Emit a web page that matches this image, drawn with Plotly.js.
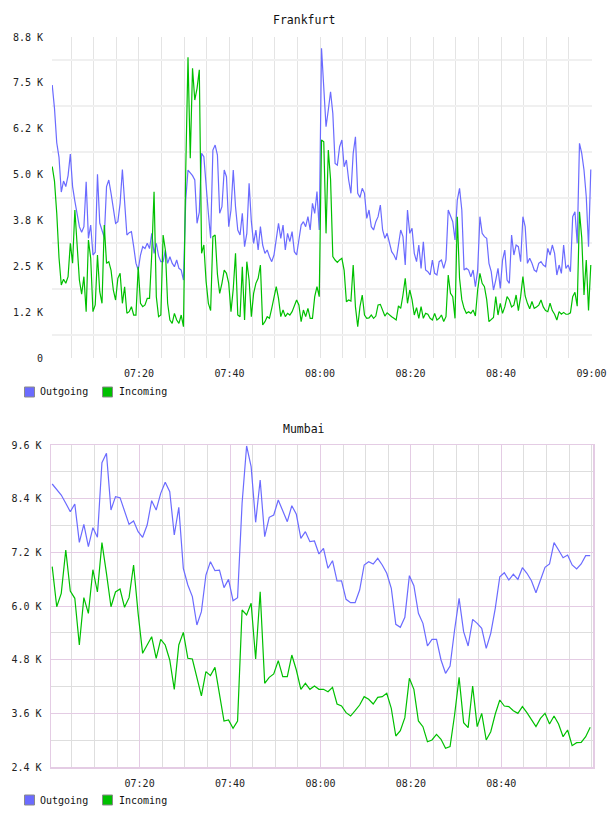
<!DOCTYPE html>
<html>
<head>
<meta charset="utf-8">
<script src="https://cdn.plot.ly/plotly-3.0.1.min.js"></script>
<style>
  html, body { margin: 0; padding: 0; background: #fff; }
  #chart { width: 608px; height: 816px; }
</style>
</head>
<body>
<div id="chart"></div>
<script>
// ---- data -------------------------------------------------------------
const day = '2024-05-14';

// Frankfurt: 30-second samples
const fraStart = '07:00:50';
const fraStepSec = 30;
const fraOutgoing = [
  7483, 6843, 5900, 5500, 4550, 4850, 4700, 5000, 5592, 4700,
  4300, 3900, 3600, 3450, 3600, 4834, 3281, 3645, 2823, 2900,
  5034, 3700, 3463, 3300, 4700, 4879, 4514, 4100, 3692, 3737,
  4240, 5169, 4200, 3371, 3436, 3463, 3052, 2600, 2412, 2823,
  3052, 3000, 3143, 3000, 3417, 2869, 3143, 2800, 2641, 2641,
  2960, 2595, 2777, 2600, 2503, 2686, 2458, 2412, 2138, 4331,
  5153, 5080, 5000, 4879, 3692, 4000, 5610, 5518, 4605, 3966,
  3281, 5701, 5838, 5564, 3966, 4148, 5153, 4970, 3600, 4057,
  5153, 4148, 3509, 3371, 3966, 3052, 3417, 4788, 3737, 3143,
  3509, 2960, 3600, 3097, 2869, 2960, 2777, 2641, 2823, 3234,
  3692, 3281, 3645, 2960, 3417, 3188, 3463, 2915, 2823, 3234,
  3645, 3737, 3600, 3874, 3509, 4240, 3966, 4560, 3509, 8489,
  7437, 6340, 6798, 7300, 6707, 5336, 5290, 5792, 5975, 5244,
  5427, 4879, 4514, 5610, 6066, 4514, 4400, 4651, 4514, 3829,
  4057, 3600, 3509, 3737, 3874, 4194, 3509, 3281, 3417, 3143,
  2915, 2823, 2686, 3097, 3509, 3326, 2549, 4057, 3417, 3554,
  2869, 2641, 3097, 2458, 3188, 2412, 2366, 2275, 2686, 2321,
  2275, 2641, 2686, 2458, 2686, 4057, 3920, 3737, 3234, 4331,
  4651, 4057, 2412, 2458, 2412, 2229, 2412, 1954, 2400, 3874,
  3417, 3326, 3281, 2595, 2366, 1864, 2138, 2458, 1910, 2686,
  2960, 2138, 2047, 3371, 2823, 3097, 3052, 2641, 3874, 3600,
  2595, 2732, 2595, 2412, 2366, 2595, 2641, 2549, 2504, 3006,
  2823, 3097, 2869, 2275, 2549, 2321, 3097, 2458, 2549, 2366,
  3874, 4011, 3143, 5884, 5610, 5153, 4422, 3052, 5169
];
const fraIncoming = [
  5250, 4850, 3966, 2750, 2000, 2160, 2050, 2229, 3143, 2600,
  4057, 3052, 2138, 1750, 2229, 1270, 3234, 2732, 1270, 1453,
  2823, 1818, 1499, 3645, 2595, 2641, 2400, 1864, 1590, 2184,
  2321, 1499, 1954, 1225, 1270, 1407, 1178, 1178, 2500, 1499,
  1407, 1453, 1635, 1635, 2869, 4560, 1680, 1133, 1178, 3371,
  2960, 1499, 1042, 950, 1225, 1042, 950, 1178, 859, 5153,
  8242, 5474, 7940, 7072, 7392, 7900, 2869, 3097, 2100, 1499,
  1300, 3326, 3371, 2300, 1773, 2047, 2412, 2321, 2047, 1270,
  1900, 2869, 1178, 1133, 2503, 1042, 2641, 2138, 1133, 1773,
  2047, 2184, 2549, 905, 996, 1133, 1088, 1362, 1680, 1955,
  1635, 1133, 1316, 1133, 1225, 1178, 1270, 1407, 1590, 1453,
  996, 1316, 1133, 1362, 1088, 1088, 1680, 1954, 1680, 5975,
  5929, 3417, 5700, 4900, 2780, 2686, 2620, 2690, 2732, 2400,
  1544, 1590, 1560, 2549, 1400, 859, 1407, 1727, 1178, 1087,
  1100, 1178, 1087, 1150, 1453, 1470, 1316, 1150, 1240, 1178,
  1133, 1090, 1042, 1430, 1362, 1727, 2184, 1499, 1864, 1600,
  1178, 1380, 1087, 1407, 1087, 1224, 1200, 1087, 1042, 1224,
  1042, 1087, 1178, 1000, 1133, 2275, 1773, 1681, 1087, 3874,
  2184, 1600, 1362, 1224, 1270, 1224, 1316, 1150, 1864, 2321,
  2047, 1955, 1600, 996, 1042, 1110, 1681, 1178, 1500, 1224,
  1400, 1681, 1590, 1400, 1450, 1727, 1300, 1681, 2229, 1700,
  1499, 1350, 1550, 1362, 1400, 1450, 1590, 1400, 1300, 1270,
  1500, 1300, 1200, 1042, 1270, 1200, 1250, 1200, 1200, 1240,
  1681, 1800, 1420, 4011, 3300, 1727, 2686, 1300, 2549
];

// Mumbai: 1-minute samples
const mumStart = '07:00:40';
const mumStepSec = 60;
const mumOutgoing = [
  8728, 8616, 8482, 8296, 8109, 8281, 7424, 7826, 7327, 7751,
  7536, 9205, 9414, 8147, 8445, 8422, 8109, 7826, 7901, 7662,
  7536, 7811, 8355, 8147, 8519, 8765, 8557, 7588, 8206, 6843,
  6470, 6209, 5575, 5873, 6693, 6991, 6790, 6800, 6410, 6596,
  6119, 6186, 8296, 9578, 9115, 7871, 8817, 7550, 7983, 8035,
  8370, 8109, 7885, 8243, 8050, 7513, 7662, 7438, 7453, 7163,
  7290, 6843, 7013, 6559, 6560, 6150, 6074, 6074, 6358, 6917,
  6991, 6939, 7066, 6917, 6731, 6396, 5591, 5523, 5747, 6678,
  6454, 5836, 5613, 5106, 5255, 5255, 4793, 4495, 4658, 5463,
  6172, 5426, 5106, 5702, 5613, 5501, 5054, 5389, 5948, 6655,
  6745, 6581, 6709, 6597, 6857, 6731, 6566, 6297, 6566, 6865,
  6939, 7416, 7252, 7080, 7140, 6917, 6827, 6939, 7125, 7125
];
const mumIncoming = [
  6879, 5984, 6283, 7252, 6335, 6172, 5128, 6186, 5836, 6811,
  6313, 7416, 6730, 5984, 6313, 6380, 5970, 6186, 6917, 5836,
  4942, 5128, 5314, 4830, 5255, 5128, 4793, 4137, 5128, 5411,
  4830, 4815, 4420, 3988, 4532, 4443, 4628, 4032, 3429, 3451,
  3265, 3429, 5911, 5799, 6060, 4815, 6320, 4271, 4405, 4480,
  4778, 4420, 4420, 4904, 4569, 4137, 4271, 4137, 4211, 4137,
  4137, 4084, 4181, 3809, 3764, 3615, 3540, 3660, 3786, 3973,
  3913, 3809, 3958, 3973, 4047, 3712, 3093, 3212, 3503, 4383,
  4137, 3429, 3302, 2966, 3004, 3130, 3019, 2817, 2855, 3563,
  4405, 3391, 3280, 4211, 3302, 3600, 3004, 3190, 3585, 3898,
  3764, 3750, 3660, 3600, 3750, 3615, 3451, 3302, 3488, 3600,
  3361, 3540, 3361, 3078, 3227, 2877, 2944, 2952, 3078, 3287
];

// axis labels
const fraTickVals = [0, 1257, 2514, 3771, 5029, 6286, 7543, 8800];
const fraTickText = ['0', '1.2 K', '2.5 K', '3.8 K', '5.0 K', '6.2 K', '7.5 K', '8.8 K'];
const mumTickVals = [2400, 3600, 4800, 6000, 7200, 8400, 9600];
const mumTickText = ['2.4 K', '3.6 K', '4.8 K', '6.0 K', '7.2 K', '8.4 K', '9.6 K'];
const fraTimeTicks = ['07:20', '07:40', '08:00', '08:20', '08:40', '09:00'];
const mumTimeTicks = ['07:20', '07:40', '08:00', '08:20', '08:40'];

const seriesNames = ['Outgoing', 'Incoming'];
const seriesColors = ['#6b6bff', '#00c000'];

// ---- helpers ----------------------------------------------------------
function pad(n) { return String(n).padStart(2, '0'); }
function stamps(start, stepSec, n) {
  const [h, m, s] = start.split(':').map(Number);
  const t0 = h * 3600 + m * 60 + s;
  const out = [];
  for (let i = 0; i < n; i++) {
    const t = t0 + i * stepSec;
    out.push(day + ' ' + pad(Math.floor(t / 3600)) + ':' + pad(Math.floor(t / 60) % 60) + ':' + pad(t % 60));
  }
  return out;
}
const at = t => day + ' ' + t;

// page geometry (pixels) for the two panels
const W = 608, H = 816;
const M = { l: 51, r: 15, t: 37, b: 49 };
const plotW = W - M.l - M.r, plotH = H - M.t - M.b;
const px = x => (x - M.l) / plotW;          // page x -> paper x
const py = y => (H - M.b - y) / plotH;      // page y -> paper y

const mono = 'DejaVu Sans Mono, monospace';
const tickFont = { family: mono, size: 10, color: '#222' };

// ---- traces -----------------------------------------------------------
const fraX = stamps(fraStart, fraStepSec, fraOutgoing.length);
const mumX = stamps(mumStart, mumStepSec, mumOutgoing.length);

function line(x, y, k, xa, ya) {
  return {
    type: 'scatter', mode: 'lines', x: x, y: y, name: seriesNames[k],
    xaxis: xa, yaxis: ya, showlegend: false, hoverinfo: 'skip',
    line: { color: seriesColors[k], width: 1.2 }
  };
}
const traces = [
  line(fraX, fraOutgoing, 0, 'x', 'y'),
  line(fraX, fraIncoming, 1, 'x', 'y'),
  line(mumX, mumOutgoing, 0, 'x2', 'y2'),
  line(mumX, mumIncoming, 1, 'x2', 'y2')
];

// ---- axes -------------------------------------------------------------
const fraStep = fraTickVals[1];
const fraHalfGrid = fraTickVals.slice(0, -1).map(v => v + fraStep / 2);
const mumHalfGrid = mumTickVals.slice(0, -1).map((v, i) => (v + mumTickVals[i + 1]) / 2);

const hiddenTick = { ticks: 'outside', ticklen: 6, tickcolor: 'rgba(0,0,0,0)' };
const pink = '#e4cce4';
const minorGray = '#dedede';
const frameGray = '#e4e4e4';

const layout = {
  width: W, height: H,
  margin: M,
  paper_bgcolor: '#fff', plot_bgcolor: '#fff',
  showlegend: false,
  xaxis: Object.assign({
    domain: [px(52), px(592)], anchor: 'y', type: 'date',
    range: [at('07:00:47'), at('09:00:06')],
    tickmode: 'array', tickvals: fraTimeTicks.map(at), ticktext: fraTimeTicks,
    showgrid: true, gridcolor: frameGray, gridwidth: 1,
    minor: { dtick: 300000, tick0: at('07:00'), showgrid: true, gridcolor: frameGray, gridwidth: 1 },
    zeroline: false, showline: false, tickfont: tickFont, fixedrange: true
  }, hiddenTick),
  yaxis: Object.assign({
    domain: [py(358), 1], anchor: 'x', range: [0, 8800],
    tickmode: 'array', tickvals: fraTickVals, ticktext: fraTickText,
    showgrid: false,
    minor: { tickmode: 'array', tickvals: fraHalfGrid, showgrid: true, gridcolor: '#f0f0f0', gridwidth: 2 },
    zeroline: false, showline: false, tickfont: tickFont, fixedrange: true
  }, hiddenTick),
  xaxis2: Object.assign({
    domain: [0, 1], anchor: 'y2', type: 'date',
    range: [at('07:00:24'), at('09:00:17')],
    tickmode: 'array', tickvals: mumTimeTicks.map(at), ticktext: mumTimeTicks,
    showgrid: true, gridcolor: pink, gridwidth: 1,
    minor: { dtick: 300000, tick0: at('07:00'), showgrid: true, gridcolor: minorGray, gridwidth: 1 },
    showline: true, mirror: true, linecolor: pink, linewidth: 1.5,
    zeroline: false, tickfont: tickFont, fixedrange: true
  }, hiddenTick),
  yaxis2: Object.assign({
    domain: [0, py(445)], anchor: 'x2', range: [2400, 9600],
    tickmode: 'array', tickvals: mumTickVals, ticktext: mumTickText,
    showgrid: true, gridcolor: pink, gridwidth: 1,
    minor: { tickmode: 'array', tickvals: mumHalfGrid, showgrid: true, gridcolor: minorGray, gridwidth: 1 },
    showline: true, mirror: true, linecolor: pink, linewidth: 1.5,
    zeroline: false, tickfont: tickFont, fixedrange: true
  }, hiddenTick),
  annotations: [],
  shapes: []
};

// panel titles
[['Frankfurt', 304, 20], ['Mumbai', 304, 429]].forEach(([t, x, y]) => {
  layout.annotations.push({
    text: t, xref: 'paper', yref: 'paper', x: px(x), y: py(y),
    xanchor: 'center', yanchor: 'middle', showarrow: false,
    font: { family: mono, size: 11.5, color: '#111' }
  });
});

// legends under each panel: square swatch + series name
[392, 800].forEach(cy => {
  [[24.5, 38], [102.5, 117]].forEach(([sx, tx], k) => {
    layout.shapes.push({
      type: 'rect', xref: 'paper', yref: 'paper',
      x0: px(sx), x1: px(sx + 10), y0: py(cy + 5), y1: py(cy - 5),
      fillcolor: seriesColors[k], line: { color: '#8a8a8a', width: 1 }
    });
    layout.annotations.push({
      text: seriesNames[k], xref: 'paper', yref: 'paper',
      x: px(tx), y: py(cy), xanchor: 'left', yanchor: 'middle',
      showarrow: false, font: { family: mono, size: 10, color: '#111' }
    });
  });
});

Plotly.newPlot('chart', traces, layout, { displayModeBar: false, staticPlot: true });
</script>
</body>
</html>
